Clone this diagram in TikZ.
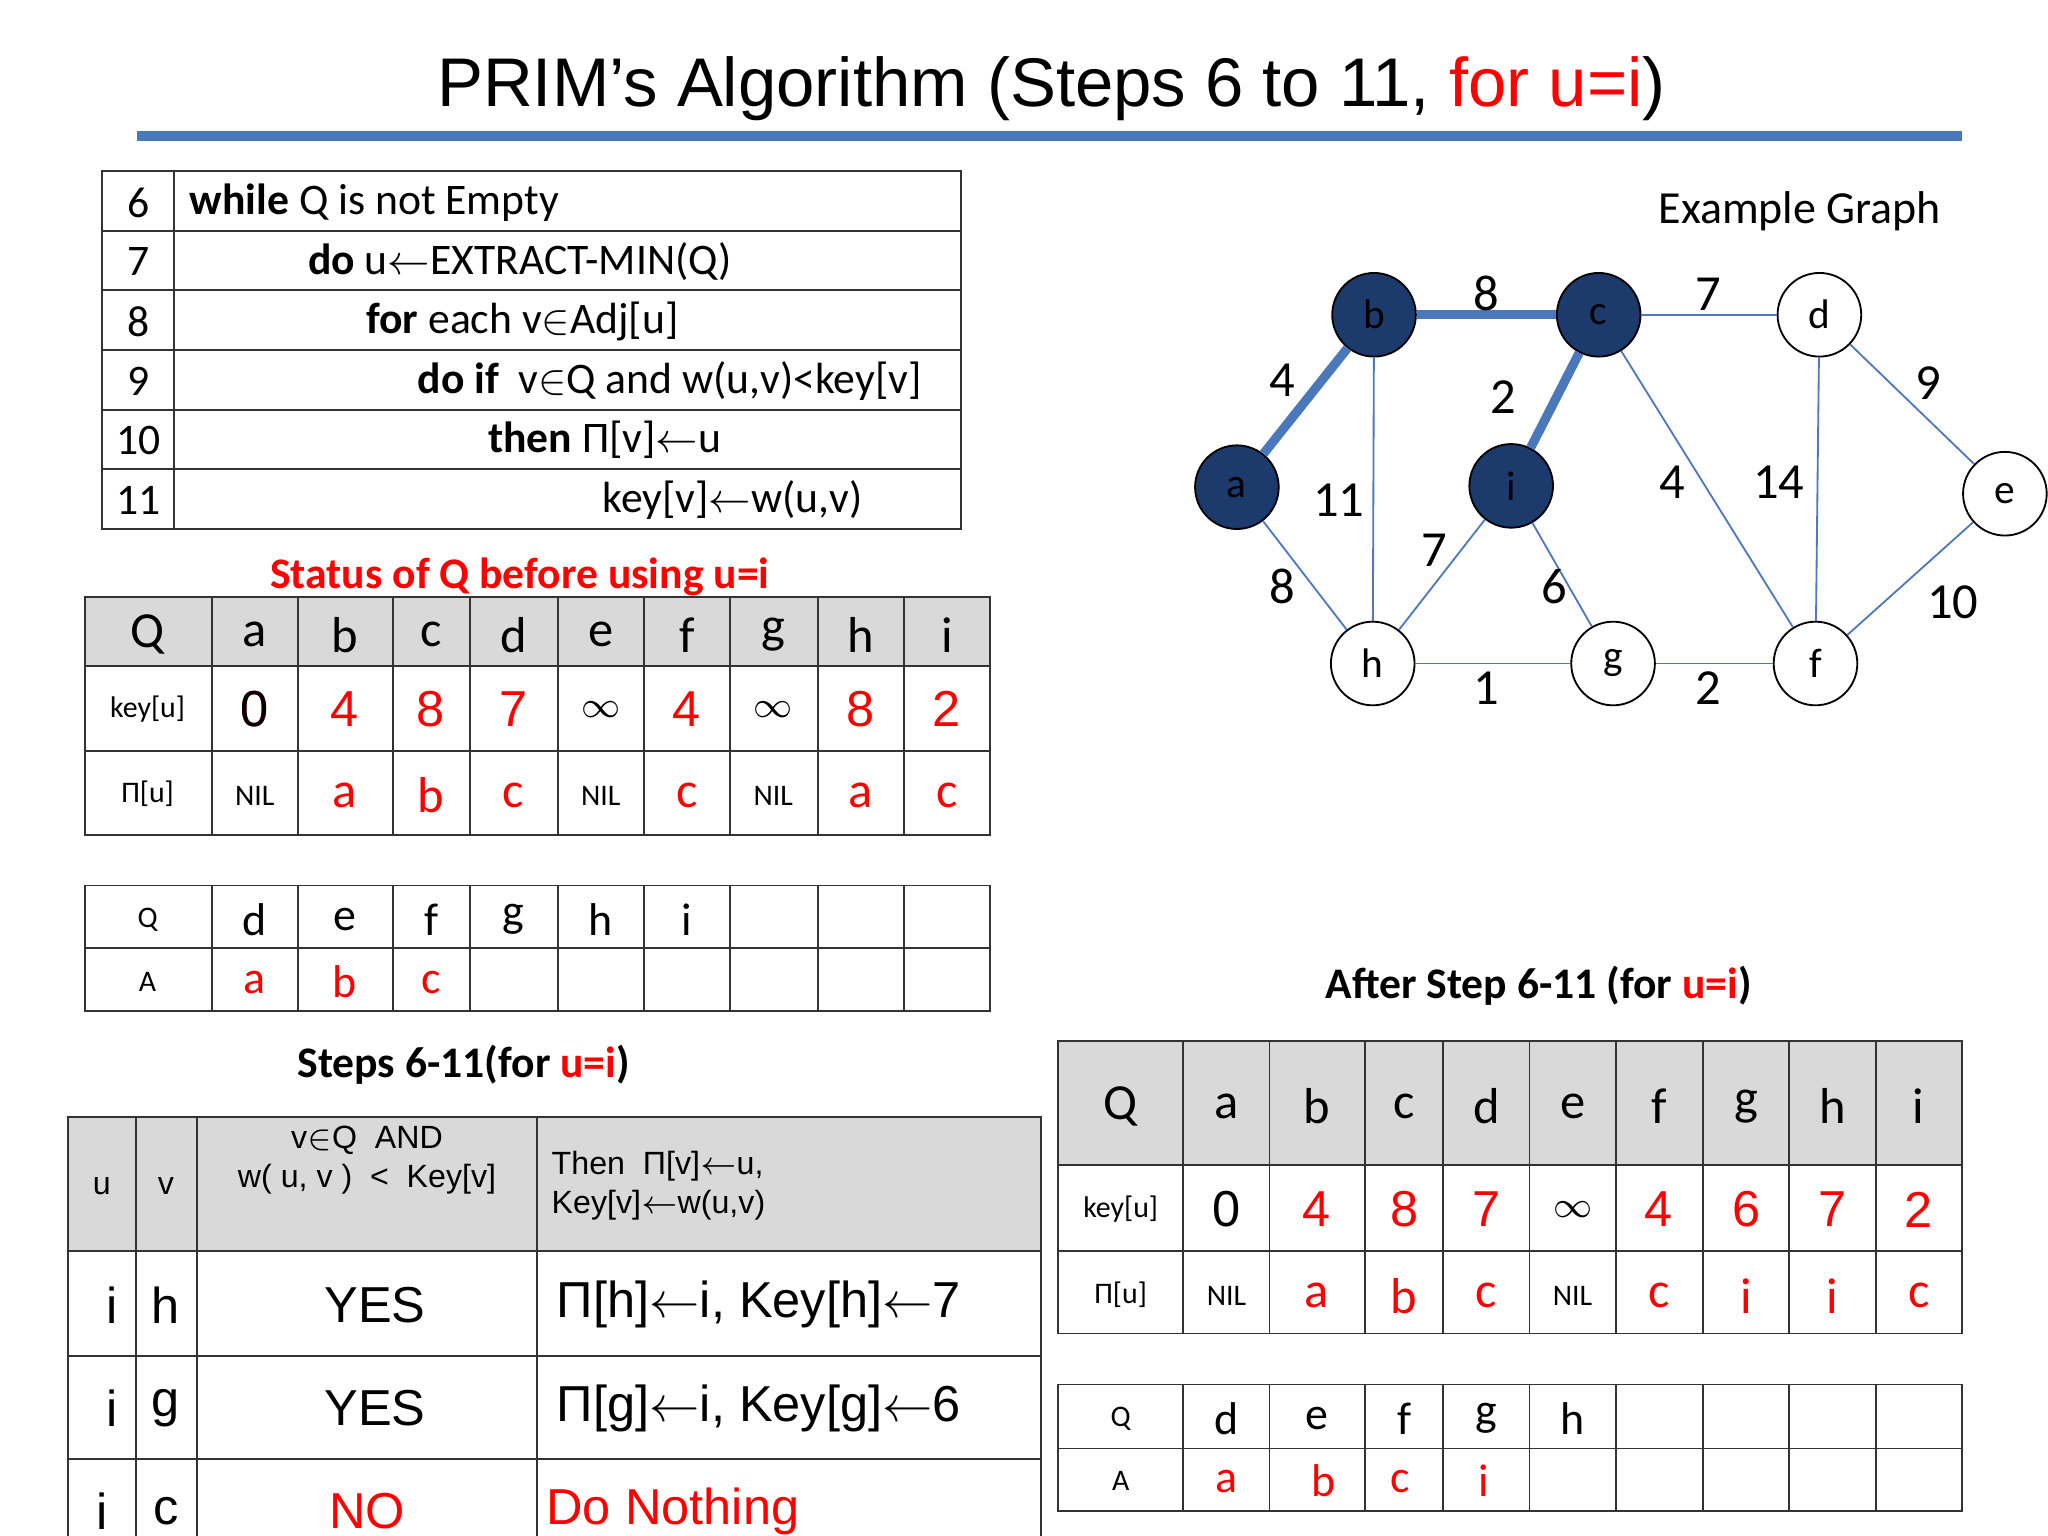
\documentclass[tikz,border=0pt]{standalone}
\usepackage{fontspec}
\setmainfont{Carlito}
\newfontfamily\arialf{Liberation Sans}
\definecolor{navy}{RGB}{28,58,108}
\definecolor{steel}{RGB}{74,120,186}
\definecolor{thinblue}{RGB}{80,120,190}
\begin{document}
\begin{tikzpicture}[x=0.01cm, y=-0.01cm,
  vert/.style = {draw, circle, minimum size=0.64cm, inner sep=0pt, font=\fontsize{9}{10}\selectfont},
  done/.style = {vert, fill=navy, text=black},
  open/.style = {vert, fill=white},
  edge/.style = {draw=thinblue, thin},
  tree/.style = {draw=steel, line width=2pt},
  wlab/.style = {font=\fontsize{11}{12}\selectfont},
  grid/.style = {draw=black!80, thin},
  hd/.style = {fill=black!15},
  nil/.style = {font=\fontsize{6.5}{8}\selectfont},
  inf/.style = {font=\fontsize{8}{9}\selectfont}]
\useasboundingbox (0,0) rectangle (1568,1176);
% title
\node[font=\arialf\fontsize{15}{17}\selectfont] (title) at (805,68) {PRIM’s Algorithm (Steps 6 to 11, \textcolor{red}{for u=i})};
\fill[steel] (105,100) rectangle (1502,108);
% pseudo code
\draw[grid] (78,131) rectangle (736,405);
\draw[grid] (133,131) -- (133,405);
\foreach \y in {177,222,268,314,359} \draw[grid] (78,\y) -- (736,\y);
\begin{scope}[font=\fontsize{9.5}{11}\selectfont]
\foreach \n/\y in {6/155,7/200,8/246,9/292,10/337,11/383} \node at (106,\y) {\n};
\node[anchor=west] at (133,155) {\textbf{while} Q is not Empty};
\node at (398,200) {\textbf{do} u$\leftarrow$EXTRACT-MIN(Q)};
\node at (400,246) {\textbf{for} each v$\in$Adj[u]};
\node[anchor=east] at (718,292) {\textbf{do if}\ \ v$\in$Q and w(u,v)<key[v]};
\node at (463,337) {\textbf{then} Π[v]$\leftarrow$u};
\node at (561,383) {key[v]$\leftarrow$w(u,v)};
\end{scope}
% status table
\node[text=red, font=\bfseries\fontsize{9.5}{11}\selectfont] (stat) at (398,442) {Status of Q before using u=i};
\fill[hd] (65,457) rectangle (758,510);
\draw[grid] (65,457) rectangle (758,639);
\foreach \y in {510,575} \draw[grid] (65,\y) -- (758,\y);
\foreach \x in {162,228,301,360,427,493,559,626,692} \draw[grid] (\x,457) -- (\x,639);
\begin{scope}[font=\fontsize{11}{12}\selectfont]
\node at (113,486) {Q};
\foreach \x/\t in {195/a,264/b,330/c,393/d,460/e,526/f,592/g,659/h,725/i} \node at (\x,486) {\t};
\node[nil] at (113,543) {key[u]};
\node[nil] at (113,608) {Π[u]};
\foreach \x/\t in {195/0,264/4,330/8,393/7,526/4,659/8,725/2}
  \node[text=red, font=\arialf\fontsize{11}{12}\selectfont] at (\x,543) {\t};
\node[font=\arialf\fontsize{11}{12}\selectfont] at (195,543) {0};
\foreach \x in {460,592} \node[inf] at (\x,543) {$\infty$};
\foreach \x in {195,460,592} \node[nil] at (\x,609) {NIL};
\foreach \x/\t in {264/a,330/b,393/c,526/c,659/a,725/c} \node[text=red] at (\x,609) {\t};
\end{scope}
% Q / A table
\draw[grid] (65,678) rectangle (758,774);
\draw[grid] (65,726) -- (758,726);
\foreach \x in {162,228,301,360,427,493,559,626,692} \draw[grid] (\x,678) -- (\x,774);
\begin{scope}[font=\fontsize{10}{12}\selectfont]
\node[nil] at (113,704) {Q};
\node[nil] at (113,752) {A};
\foreach \x/\t in {195/d,264/e,330/f,393/g,460/h,526/i} \node at (\x,704) {\t};
\foreach \x/\t in {195/a,264/b,330/c} \node[text=red] at (\x,752) {\t};
\end{scope}
% steps table
\node[font=\bfseries\fontsize{9.5}{11}\selectfont] (steps) at (355,815) {Steps 6-11(for \textcolor{red}{u=i})};
\fill[hd] (52,855) rectangle (797,958);
\draw[grid] (52,1176) -- (52,855) -- (797,855) -- (797,1176);
\foreach \y in {958,1038,1117} \draw[grid] (52,\y) -- (797,\y);
\foreach \x in {104,151,411} \draw[grid] (\x,855) -- (\x,1176);
\begin{scope}[font=\arialf\fontsize{7}{8.5}\selectfont]
\node at (78,908) {u};
\node at (127,908) {v};
\node[align=center] at (281,888) {v$\in$Q\ \ AND\\w( u, v )\ \ <\ \ Key[v]};
\node[align=left, anchor=west] at (410,908) {Then\ \ Π[v]$\leftarrow$u,\\Key[v]$\leftarrow$w(u,v)};
\end{scope}
\begin{scope}[font=\arialf\fontsize{11}{13}\selectfont]
\foreach \y/\v/\r/\a in {999/h/YES/{Π[h]$\leftarrow$i, Key[h]$\leftarrow$7},1078/g/YES/{Π[g]$\leftarrow$i, Key[g]$\leftarrow$6}} {
  \node at (86,\y) {i};
  \node at (127,\y) {\v};
  \node at (287,\y) {\r};
  \node[anchor=west] at (414,\y) {\a};
}
\node at (78,1157) {i};
\node at (127,1157) {c};
\node[text=red] at (281,1157) {NO};
\node[text=red, anchor=west] at (406,1157) {Do Nothing};
\end{scope}
% graph
\node[font=\fontsize{10}{12}\selectfont] (gtitle) at (1378,162) {Example Graph};
\node[done] (a) at (947,373) {a};
\node[done] (b) at (1052,241) {b};
\node[done] (c) at (1224,241) {c};
\node[open] (d) at (1393,241) {d};
\node[open] (e) at (1535,378) {e};
\node[open] (f) at (1390,508) {f};
\node[open] (g) at (1235,508) {g};
\node[open] (h) at (1051,508) {h};
\node[done] (i) at (1157,372) {i};
\draw[tree] (a) -- (b);
\draw[tree] (b) -- (c);
\draw[tree] (c) -- (i);
\draw[edge] (c) -- (d);
\draw[edge] (d) -- (e);
\draw[edge] (d) -- (f);
\draw[edge] (e) -- (f);
\draw[edge] (c) -- (f);
\draw[edge] (b) -- (h);
\draw[edge] (a) -- (h);
\draw[edge] (h) -- (i);
\draw[edge] (i) -- (g);
\draw[edge] (h) -- (g);
\draw[edge] (g) -- (f);
\foreach \x/\y/\w in {982/291/4,1138/225/8,1151/304/2,1308/225/7,1476/293/9,1025/383/11,1098/421/7,1280/369/4,1362/369/14,982/449/8,1190/449/6,1495/461/10,1138/527/1,1308/527/2}
  \node[wlab] at (\x,\y) {\w};
% after table
\node[font=\bfseries\fontsize{9.5}{11}\selectfont] (after) at (1178,755) {After Step 6-11 (for \textcolor{red}{u=i})};
\fill[hd] (810,797) rectangle (1502,892);
\draw[grid] (810,797) rectangle (1502,1021);
\foreach \y in {892,958} \draw[grid] (810,\y) -- (1502,\y);
\foreach \x in {906,972,1045,1105,1171,1237,1304,1370,1436} \draw[grid] (\x,797) -- (\x,1021);
\begin{scope}[font=\fontsize{11}{12}\selectfont]
\node at (858,847) {Q};
\foreach \x/\t in {939/a,1008/b,1075/c,1138/d,1204/e,1270/f,1337/g,1403/h,1469/i} \node at (\x,847) {\t};
\node[nil] at (858,926) {key[u]};
\node[nil] at (858,991) {Π[u]};
\node[font=\arialf\fontsize{11}{12}\selectfont] at (939,926) {0};
\foreach \x/\t in {1008/4,1075/8,1138/7,1270/4,1337/6,1403/7,1469/2}
  \node[text=red, font=\arialf\fontsize{11}{12}\selectfont] at (\x,926) {\t};
\node[inf] at (1204,926) {$\infty$};
\foreach \x in {939,1204} \node[nil] at (\x,992) {NIL};
\foreach \x/\t in {1008/a,1075/b,1138/c,1270/c,1337/i,1403/i,1469/c}
  \node[text=red] at (\x,992) {\t};
\end{scope}
\draw[grid] (810,1060) rectangle (1502,1157);
\draw[grid] (810,1109) -- (1502,1109);
\foreach \x in {906,972,1045,1105,1171,1237,1304,1370,1436} \draw[grid] (\x,1060) -- (\x,1157);
\begin{scope}[font=\fontsize{10}{12}\selectfont]
\node[nil] at (858,1086) {Q};
\node[nil] at (858,1134) {A};
\foreach \x/\t in {939/d,1008/e,1075/f,1138/g,1204/h} \node at (\x,1086) {\t};
\foreach \x/\t in {939/a,1013/b,1072/c,1136/i} \node[text=red] at (\x,1134) {\t};
\end{scope}
\end{tikzpicture}
\end{document}
